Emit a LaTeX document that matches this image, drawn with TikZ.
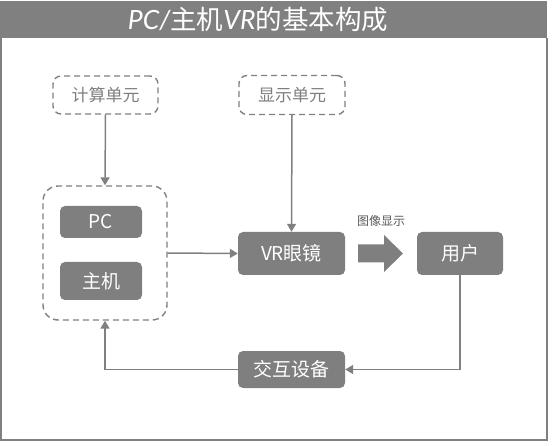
\documentclass[tikz,border=0pt]{standalone}
\usepackage{fontspec}
\setmainfont{Noto Sans CJK SC}
\newfontfamily\titlelat{Lato}
\usetikzlibrary{arrows.meta}
\definecolor{boxgray}{HTML}{7F7F7F}
\definecolor{linegray}{HTML}{808080}
\definecolor{txtgray}{HTML}{595959}
\tikzset{
  filledbox/.style={fill=boxgray, rounded corners=5pt, text=white, inner sep=0pt, font=\fontsize{19}{21}\selectfont},
  dashbox/.style={draw=linegray, dashed, dash pattern=on 6pt off 4pt, line width=1.4pt, rounded corners=8pt, text=boxgray, inner sep=0pt, font=\fontsize{17}{19}\selectfont},
  conn/.style={draw=linegray, line width=1.5pt, -{Triangle[length=8pt,width=9pt]}},
}
\begin{document}
\begin{tikzpicture}[x=1pt,y=-1pt]
\useasboundingbox (0,0) rectangle (554,446);
% title bar and frame
\fill[linegray] (0,1) rectangle (547,38);
\draw[linegray, line width=2pt] (1,38) -- (1,440) -- (547,440) -- (547,38);
\node[text=white, font=\fontsize{26.5}{28}\selectfont] (title) at (258,19.5) {{\titlelat\itshape PC/}主机{\titlelat\itshape VR}的基本构成};
% nodes
\node[dashbox, minimum width=105pt, minimum height=38pt] (calc) at (105.5,95) {计算单元};
\node[dashbox, minimum width=106pt, minimum height=39pt] (disp) at (292,95) {显示单元};
\node[dashbox, rounded corners=15pt, minimum width=124pt, minimum height=134pt] (grp) at (105,253) {};
\node[filledbox, minimum width=82pt, minimum height=32pt] (pc) at (101,222) {PC};
\node[filledbox, minimum width=82pt, minimum height=38pt] (host) at (101,281) {主机};
\node[filledbox, minimum width=107pt, minimum height=43pt] (vr) at (291.5,253.5) {VR眼镜};
\node[filledbox, minimum width=86pt, minimum height=43pt] (user) at (460,253.5) {用户};
\node[filledbox, minimum width=107pt, minimum height=37pt] (io) at (291.5,369.5) {交互设备};
\coordinate (bigarrow) at (358,253.5);
\fill[boxgray] (bigarrow) ++(0,-9) -- ++(26,0) -- ++(0,-9.5) -- ++(19,18.5) -- ++(-19,18.5) -- ++(0,-9.5) -- ++(-26,0) -- cycle;
\node[text=txtgray, font=\fontsize{12}{14}\selectfont] (lbl) at (381,221) {图像显示};
% connectors
\draw[conn] (calc.south) -- (grp.north);
\draw[conn] (disp.south) -- (vr.north);
\draw[conn] (grp.east) -- (vr.west);
\draw[conn] (user.south) |- (io.east);
\draw[conn] (io.west) -| (grp.south);
\end{tikzpicture}
\end{document}
